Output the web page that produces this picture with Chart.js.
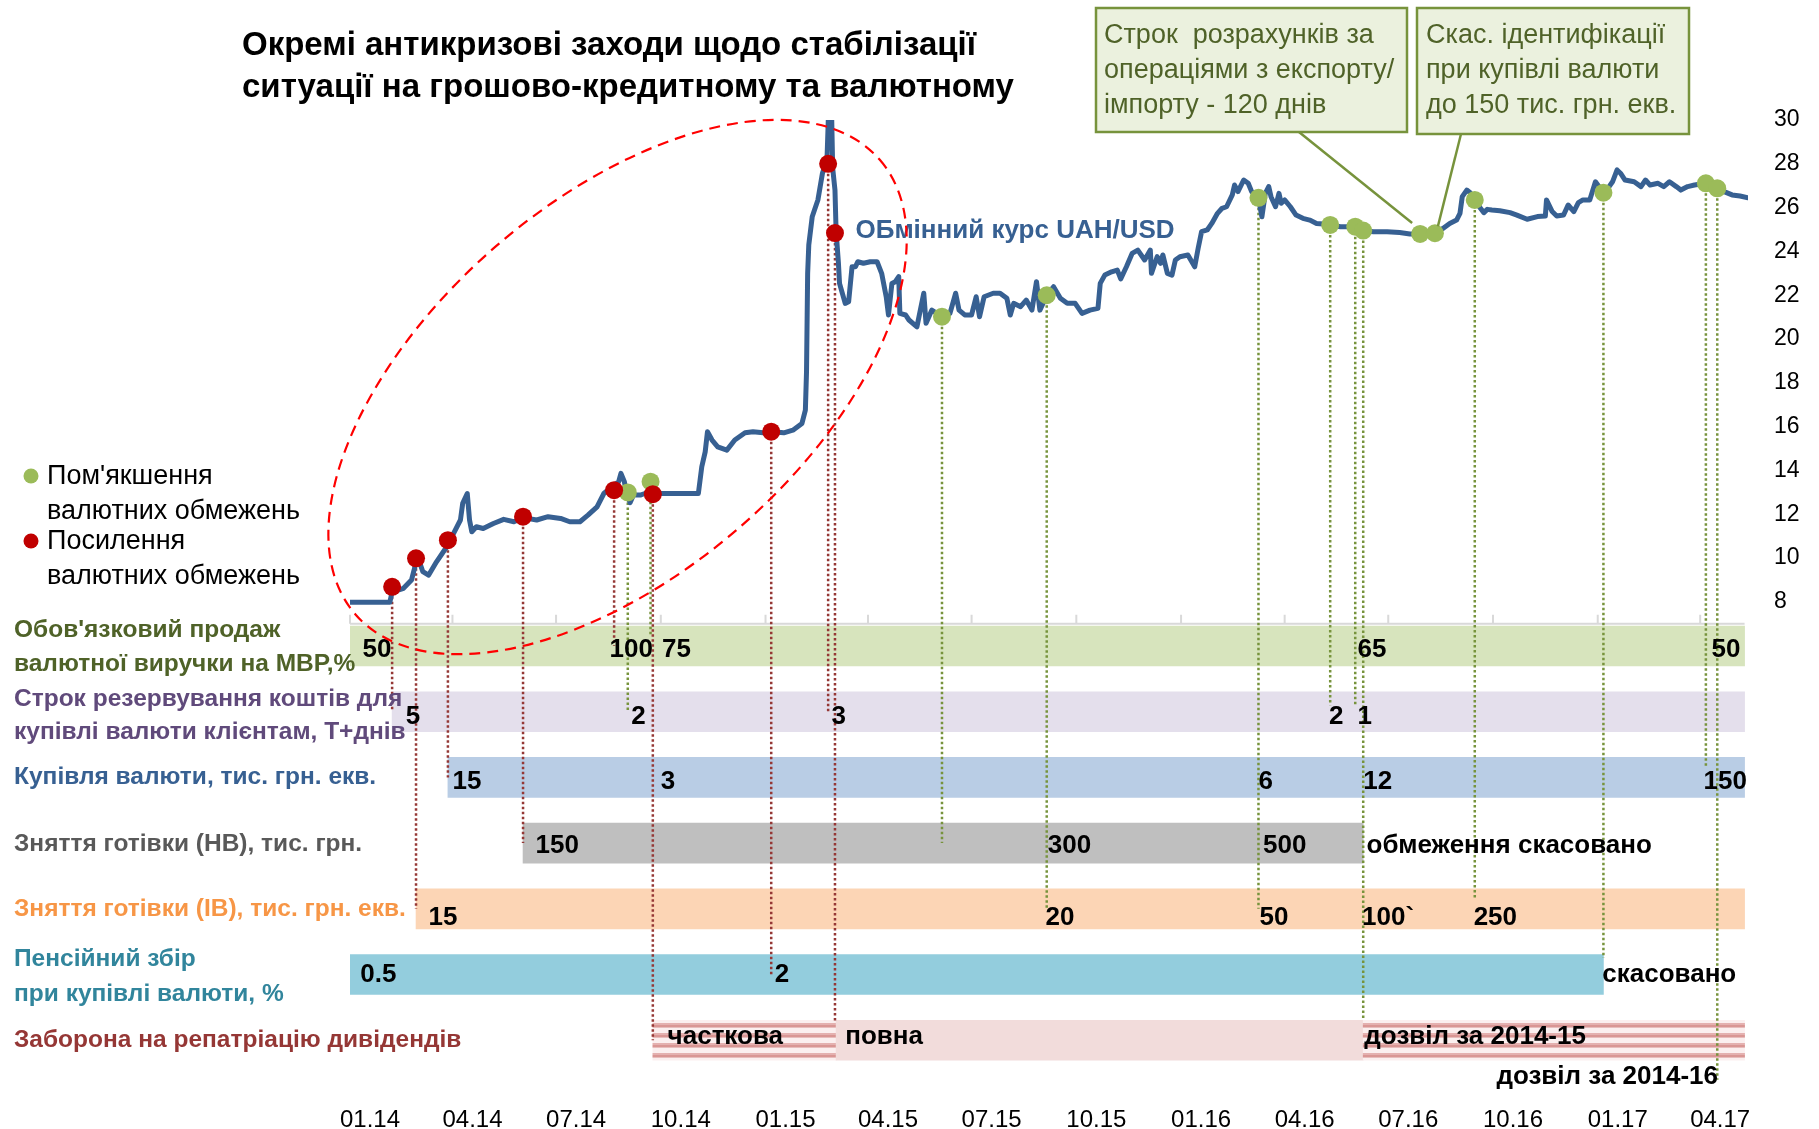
<!DOCTYPE html>
<html lang="uk">
<head>
<meta charset="utf-8">
<title>Окремі антикризові заходи</title>
<script src="https://cdn.jsdelivr.net/npm/chart.js@4.4.1/dist/chart.umd.min.js"></script>
<style>
  html, body { margin: 0; padding: 0; background: #fff; }
  canvas { display: block; }
</style>
</head>
<body>
<canvas id="chart" width="1819" height="1129"></canvas>
<script>
// x values are days since 01.01.2014

// ================= EXCHANGE RATE UAH/USD =================
const rateDays = [
  0, 35, 37, 47, 54, 57, 58, 61, 64, 69,
  76, 85, 91, 97, 99, 103, 105, 107, 111, 117,
  126, 135, 144, 152, 164, 174, 185, 193, 202, 209,
  217, 223, 230, 236, 238, 241, 243, 246, 249, 255,
  259, 272, 284, 306, 309, 312, 314, 318, 323, 331,
  338, 347, 354, 363, 371, 381, 389, 397, 400, 401,
  402, 403, 406, 408, 411, 415, 419, 422, 424, 426,
  427, 429, 430, 435, 438, 441, 444, 446, 451, 457,
  463, 467, 471, 473, 476, 479, 482, 483, 488, 491,
  498, 504, 506, 511, 520, 527, 532, 535, 540, 546,
  550, 553, 557, 565, 571, 577, 580, 583, 589, 594,
  599, 603, 606, 612, 618, 624, 630, 637, 643, 650,
  657, 659, 663, 669, 674, 677, 682, 687, 692, 698,
  703, 704, 709, 712, 714, 718, 722, 725, 729, 736,
  742, 745, 748, 753, 757, 762, 766, 770, 775, 777,
  780, 785, 789, 792, 798, 801, 804, 807, 809, 813,
  816, 818, 821, 826, 831, 837, 843, 849, 855, 861,
  870, 883, 890, 899, 911, 922, 931, 940, 952, 960,
  966, 972, 975, 977, 981, 984, 988, 993, 996, 999,
  1003, 1010, 1019, 1025, 1034, 1043, 1050, 1051, 1056, 1060,
  1066, 1070, 1075, 1079, 1083, 1089, 1094, 1101, 1106, 1109,
  1113, 1116, 1120, 1128, 1134, 1138, 1142, 1149, 1154, 1159,
  1165, 1169, 1175, 1181, 1191, 1201, 1207, 1214, 1221, 1228
];
const rateValues = [
  7.99, 7.99, 8.45, 8.62, 9.0, 9.6, 9.95, 9.83, 9.38, 9.22,
  9.83, 10.52, 11.13, 11.74, 12.5, 12.95, 11.74, 11.2, 11.43, 11.35,
  11.58, 11.77, 11.66, 11.85, 11.74, 11.89, 11.81, 11.66, 11.66, 11.96,
  12.34, 12.95, 13.26, 13.49, 13.87, 13.49, 12.95, 12.53, 12.88, 12.88,
  12.95, 12.95, 12.95, 12.95, 14.17, 14.85, 15.77, 15.39, 15.08, 14.93,
  15.39, 15.72, 15.77, 15.72, 15.77, 15.72, 15.84, 16.15, 16.76, 18.5,
  23.0, 24.3, 25.58, 25.89, 26.35, 27.57, 28.2, 33.0, 27.8, 26.8,
  24.9, 23.5, 22.54, 21.63, 21.7, 23.3, 23.3, 23.53, 23.46, 23.53,
  23.53, 23.0, 21.93, 21.1, 22.54, 22.62, 22.85, 21.17, 21.1, 20.87,
  20.56, 22.09, 20.72, 21.32, 21.02, 21.17, 22.09, 21.32, 21.1, 21.1,
  21.93, 21.02, 21.93, 22.09, 22.09, 21.86, 21.1, 21.63, 21.48, 21.78,
  21.32, 22.62, 21.32, 22.0, 22.39, 21.86, 21.63, 21.63, 21.17, 21.32,
  21.4, 22.54, 22.92, 23.07, 23.15, 22.75, 23.3, 23.91, 24.06, 23.61,
  24.06, 23.0, 23.76, 23.46, 23.84, 23.0, 22.92, 23.61, 23.76, 23.84,
  23.3, 24.14, 24.9, 24.98, 25.28, 25.74, 25.97, 26.04, 26.58, 27.03,
  26.73, 27.26, 27.11, 26.73, 26.45, 25.58, 26.65, 26.96, 26.5, 26.04,
  26.65, 26.2, 26.35, 26.04, 25.66, 25.51, 25.43, 25.28, 25.25, 25.21,
  25.13, 25.13, 24.95, 24.9, 24.9, 24.86, 24.8, 24.8, 24.83, 25.05,
  25.28, 25.43, 25.74, 26.5, 26.8, 26.68, 26.35, 25.97, 25.77, 25.92,
  25.89, 25.86, 25.77, 25.66, 25.47, 25.59, 25.62, 26.35, 25.82, 25.62,
  25.66, 26.12, 25.82, 26.23, 26.35, 26.35, 27.18, 26.68, 26.96, 27.18,
  27.72, 27.57, 27.26, 27.18, 26.96, 27.26, 27.03, 27.11, 26.96, 27.18,
  26.96, 26.8, 26.96, 27.03, 27.11, 26.88, 26.73, 26.58, 26.53, 26.45
];

// ================= MEASURES (dots on the line) =================
// row = band the dotted line drops to (null = no line)
const redDays  = [37, 58, 86, 152, 232, 266, 370, 420, 426];
const redRates = [8.69, 9.99, 10.82, 11.89, 13.1, 12.92, 15.77, 28.0, 24.84];
const redRows  = [1, 4, 2, 3, 0, 6, 5, 1, 5.7];

const greenDays  = [244, 264, 520, 612, 798, 861, 883, 890, 940, 953, 988, 1101, 1191, 1201];
const greenRates = [13.0, 13.49, 21.02, 22.0, 26.45, 25.21, 25.13, 24.95, 24.8, 24.83, 26.35, 26.68, 27.11, 26.88];
const greenRows  = [1, -0.15, 3, 4, 4, 0.9, 0.9, 5.7, null, null, 3.85, 4.75, 1.85, 6.6];

// ================= AXES =================
const xTickDays = [0, 90, 181, 273, 365, 455, 546, 638, 730, 821, 912, 1004, 1096, 1186];
const xTickLabels = ["01.14", "04.14", "07.14", "10.14", "01.15", "04.15", "07.15",
                     "10.15", "01.16", "04.16", "07.16", "10.16", "01.17", "04.17"];

// ================= BANDS =================
const rowTitles = [
  ["Обов'язковий продаж", "валютної виручки на МВР,%"],
  ["Строк резервування коштів для", "купівлі валюти клієнтам, Т+днів"],
  ["Купівля валюти, тис. грн. екв."],
  ["Зняття готівки (НВ), тис. грн."],
  ["Зняття готівки (ІВ), тис. грн. екв."],
  ["Пенсійний збір", "при купівлі валюти, %"],
  ["Заборона на репатріацію дивідендів"]
];
const bandSpans = [
  [[0, 1225]],
  [[37, 1225]],
  [[86, 1225]],
  [[152, 890]],
  [[58, 1225]],
  [[0, 1101]],
  [[266, 427], [427, 890], [890, 1225]]
];
const noteRows = [0, 0, 0, 0, 0, 1, 1, 1, 1, 1, 2, 2, 2, 2, 2, 3, 3, 3, 3,
                  4, 4, 4, 4, 4, 5, 5, 5, 6, 6, 6, 6.6];
const noteDays = [11, 228, 274, 885, 1196, 49, 247, 423, 860, 885, 90, 273, 798, 890, 1189,
                  163, 613, 802, 893, 69, 611, 799, 889, 987, 9, 373, 1100, 279, 435, 891, 1007];
const noteTexts = ["50", "100", "75", "65", "50", "5", "2", "3", "2", "1",
                   "15", "3", "6", "12", "150", "150", "300", "500", "обмеження скасовано",
                   "15", "20", "50", "100`", "250", "0.5", "2", "скасовано",
                   "часткова", "повна", "дозвіл за 2014-15", "дозвіл за 2014-16"];

// ================= STYLE =================
const FONT = "'Liberation Sans', Arial, sans-serif";
const rowTitleColors = ["#4f6228", "#604a7b", "#376092", "#595959", "#f79646", "#31859c", "#953735"];
const bandColors = ["#d7e4bd", "#e4dfec", "#b9cde5", "#bfbfbf", "#fcd5b5", "#93cddd", "#f2dcdb"];
const titleDy = [[-16, 18], [-12, 21], [0], [1], [0], [-15, 20], [0]];
const noteDy = [4, 5, 4, 3, 9, 0, -3];

const canvas = document.getElementById("chart");

function stripes() {
  const c = document.createElement("canvas");
  c.width = 8; c.height = 10;
  const g = c.getContext("2d");
  g.fillStyle = "#fbefef"; g.fillRect(0, 0, 8, 10);
  g.fillStyle = "#e4b0af"; g.fillRect(0, 3, 8, 2);
  g.fillStyle = "#d99694"; g.fillRect(0, 5, 8, 2);
  g.fillStyle = "#e8bdbc"; g.fillRect(0, 7, 8, 1);
  return canvas.getContext("2d").createPattern(c, "repeat");
}
const stripeFill = stripes();

const bandDatasets = bandSpans.map((spans, row) => ({
  type: "bar",
  indexAxis: "y",
  xAxisID: "x",
  yAxisID: "yr",
  order: 10,
  grouped: false,
  barThickness: 40,
  borderWidth: 0,
  backgroundColor: row === 6 ? [stripeFill, bandColors[6], stripeFill] : bandColors[row],
  data: spans.map(s => ({ x: s, y: row }))
}));

function text(ctx, s, x, y, font, color, base = "middle") {
  ctx.font = font;
  ctx.fillStyle = color;
  ctx.textAlign = "left";
  ctx.textBaseline = base;
  ctx.fillText(s, x, y);
}

const overlay = {
  id: "overlay",
  beforeDatasetsDraw(chart) {
    const { ctx, scales: { x, y } } = chart;
    const yy = y.getPixelForValue(7);
    ctx.save();
    ctx.strokeStyle = "#d9d9d9";
    ctx.lineWidth = 2;
    ctx.beginPath();
    ctx.moveTo(x.getPixelForValue(0), yy);
    ctx.lineTo(x.getPixelForValue(1225), yy);
    xTickDays.forEach(d => {
      const px = x.getPixelForValue(d);
      ctx.moveTo(px, yy);
      ctx.lineTo(px, yy - 9);
    });
    ctx.stroke();
    ctx.restore();
  },
  beforeDatasetDraw(chart, args) {
    if (args.index !== 0) return;
    const { ctx, scales: { x, y, yr } } = chart;
    ctx.save();
    ctx.lineWidth = 2.5;
    ctx.setLineDash([2.5, 2.5]);
    const drop = (days, rates, rows, color) => {
      ctx.strokeStyle = color;
      days.forEach((d, i) => {
        if (rows[i] === null) return;
        const px = x.getPixelForValue(d);
        ctx.beginPath();
        ctx.moveTo(px, y.getPixelForValue(rates[i]));
        ctx.lineTo(px, yr.getPixelForValue(rows[i]));
        ctx.stroke();
      });
    };
    drop(redDays, redRates, redRows, "#953735");
    drop(greenDays, greenRates, greenRows, "#77933c");
    ctx.restore();
  },
  afterDraw(chart) {
    const { ctx, scales: { x, y, yr } } = chart;
    ctx.save();

    // title
    text(ctx, "Окремі антикризові заходи щодо стабілізації", 242, 55, "bold 33px " + FONT, "#000", "alphabetic");
    text(ctx, "ситуації на грошово-кредитному та валютному", 242, 97, "bold 33px " + FONT, "#000", "alphabetic");

    // legend
    [["#9bbb59", "Пом'якшення", 476], ["#c00000", "Посилення", 541]].forEach(([c, s, yy]) => {
      ctx.fillStyle = c;
      ctx.beginPath();
      ctx.arc(31, yy, 7.5, 0, Math.PI * 2);
      ctx.fill();
      text(ctx, s, 47, yy + 1, "27px " + FONT, "#000");
      text(ctx, "валютних обмежень", 47, yy + 36, "27px " + FONT, "#000");
    });

    // row titles
    rowTitles.forEach((lines, row) => {
      const cy = yr.getPixelForValue(row);
      lines.forEach((s, k) => {
        text(ctx, s, 14, cy + titleDy[row][k], "bold 24.5px " + FONT, rowTitleColors[row]);
      });
    });

    // values on bands
    noteTexts.forEach((s, i) => {
      const row = noteRows[i];
      const cy = yr.getPixelForValue(row) + noteDy[Math.min(6, Math.floor(row))];
      text(ctx, s, x.getPixelForValue(noteDays[i]), cy, "bold 26px " + FONT, "#000");
    });

    // series label
    text(ctx, "ОБмінний курс UAH/USD", x.getPixelForValue(444), y.getPixelForValue(24.93),
         "bold 26px " + FONT, "#376092");

    // dashed ellipse round the 2014-15 tightening
    ctx.strokeStyle = "#ff0000";
    ctx.lineWidth = 2.2;
    ctx.setLineDash([11, 7]);
    ctx.beginPath();
    ctx.ellipse(x.getPixelForValue(235), y.getPixelForValue(17.81), 347, 186,
                -40.9 * Math.PI / 180, 0, Math.PI * 2);
    ctx.stroke();
    ctx.setLineDash([]);

    // callouts
    const callouts = [
      { box: [1096, 8, 311, 124], tx: 1104, from: [1299, 132], dot: 8, tip: [-8, -11],
        lines: ["Строк  розрахунків за", "операціями з експорту/", "імпорту - 120 днів"] },
      { box: [1417, 8, 272, 126], tx: 1426, from: [1461, 134], dot: 9, tip: [3, -7],
        lines: ["Скас. ідентифікації", "при купівлі валюти", "до 150 тис. грн. екв."] }
    ];
    callouts.forEach(c => {
      ctx.strokeStyle = "#77933c";
      ctx.lineWidth = 2.5;
      ctx.beginPath();
      ctx.moveTo(c.from[0], c.from[1]);
      ctx.lineTo(x.getPixelForValue(greenDays[c.dot]) + c.tip[0],
                 y.getPixelForValue(greenRates[c.dot]) + c.tip[1]);
      ctx.stroke();
      ctx.fillStyle = "#ebf1de";
      ctx.fillRect(...c.box);
      ctx.strokeRect(...c.box);
      c.lines.forEach((s, k) => text(ctx, s, c.tx, 43 + k * 35, "27px " + FONT, "#4f6228", "alphabetic"));
    });

    ctx.restore();
  }
};

new Chart(canvas, {
  type: "line",
  data: {
    datasets: [
      {
        label: "ОБмінний курс UAH/USD",
        data: rateDays.map((d, i) => ({ x: d, y: rateValues[i] })),
        borderColor: "#376092",
        borderWidth: 5,
        borderJoinStyle: "round",
        borderCapStyle: "round",
        pointRadius: 0,
        tension: 0,
        order: 2
      },
      {
        type: "scatter",
        label: "Посилення валютних обмежень",
        data: redDays.map((d, i) => ({ x: d, y: redRates[i] })),
        pointRadius: 9,
        pointBackgroundColor: "#c00000",
        pointBorderWidth: 0,
        order: 0
      },
      {
        type: "scatter",
        label: "Пом'якшення валютних обмежень",
        data: greenDays.map((d, i) => ({ x: d, y: greenRates[i] })),
        pointRadius: 9,
        pointBackgroundColor: "#9bbb59",
        pointBorderWidth: 0,
        order: 1
      },
      ...bandDatasets
    ]
  },
  options: {
    responsive: false,
    animation: false,
    events: [],
    layout: { padding: { left: 350, top: 120, right: 0, bottom: 0 } },
    plugins: { legend: { display: false }, tooltip: { enabled: false } },
    scales: {
      x: {
        type: "linear",
        position: "bottom",
        min: 0,
        max: 1228,
        grid: { display: false, drawTicks: false },
        border: { display: false },
        afterFit: s => { s.height = 32; },
        afterBuildTicks: s => { s.ticks = xTickDays.map(v => ({ value: v })); },
        ticks: {
          callback: (v, i) => xTickLabels[i],
          autoSkip: false,
          maxRotation: 0,
          labelOffset: 20,
          padding: 9,
          color: "#000",
          font: { family: FONT, size: 24 }
        }
      },
      y: {
        type: "linear",
        position: "right",
        min: -14.6,
        max: 30,
        grid: { display: false, drawTicks: true, tickLength: 22 },
        border: { display: false },
        afterFit: s => { s.width = 71; },
        ticks: {
          stepSize: 2,
          includeBounds: false,
          autoSkip: false,
          callback: v => (v >= 8 ? v : ""),
          padding: 4,
          color: "#000",
          font: { family: FONT, size: 23 }
        }
      },
      yr: {
        type: "linear",
        axis: "y",
        position: "left",
        display: false,
        offset: false,
        reverse: true,
        min: -8.006,
        max: 6.864
      }
    }
  },
  plugins: [overlay]
});
</script>
</body>
</html>
